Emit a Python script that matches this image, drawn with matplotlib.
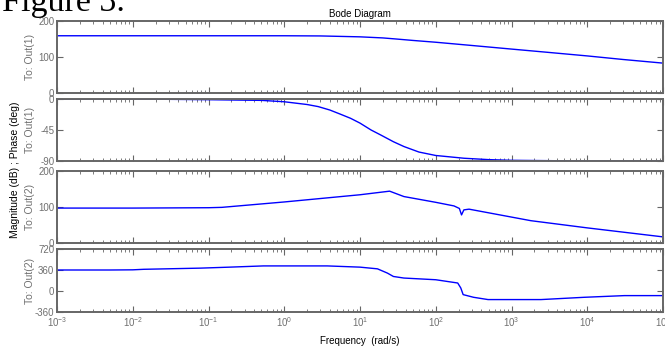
import numpy as np
import matplotlib
matplotlib.use("Agg")
import matplotlib.pyplot as plt
from matplotlib.ticker import LogLocator, NullFormatter, FixedLocator

plt.rcParams['font.family'] = ['Liberation Sans', 'DejaVu Sans']
plt.rcParams['mathtext.fontset'] = 'custom'
plt.rcParams['mathtext.rm'] = 'Liberation Sans'
plt.rcParams['mathtext.it'] = 'Liberation Sans'
plt.rcParams['axes.unicode_minus'] = False

# ---- data ----
f_mag1 = [1e-3, 1e-2, 0.1, 1, 3, 10, 20, 30, 50, 100, 300, 1000, 3000, 1e4, 3e4, 1e5]
mag1 = [159, 159, 159, 159, 158.5, 156, 153, 150, 146, 141, 132, 122, 113, 103, 93, 83]

f_ph1 = [1e-3, 1e-2, 0.1, 0.5, 1, 2, 2.8, 4, 5.5, 7.5, 10, 14, 18.6, 27.6, 38, 60, 100, 236, 500, 1000, 1e4, 1e5]
ph1 = [0, 0, -1, -2, -4, -8, -11, -16, -22, -28, -35, -45, -52, -62, -69, -77, -82, -86, -88, -89, -90, -90]

f_mag2 = [1e-3, 1e-2, 0.1, 0.15, 1, 10, 24.6, 38, 100, 174, 205, 219, 235, 275, 1000, 1800, 1e4, 1e5]
mag2 = [97, 97, 98, 99, 114, 134, 144, 129, 113, 103, 96, 78, 92, 94, 72, 62, 42, 17]

f_ph2 = [1e-3, 5e-3, 1e-2, 0.014, 0.078, 0.19, 0.53, 3.7, 10, 17, 23, 27.6, 38, 100, 195, 214, 230, 316, 490, 2450, 9100, 31000, 1e5]
ph2 = [360, 360, 363, 372, 392, 409, 430, 430, 409, 380, 307, 249, 222, 193, 137, 52, -62, -108, -147, -147, -108, -79, -79]

ylims = [(0, 200), (-90, 0), (0, 200), (-360, 720)]
yticks = [[0, 100, 200], [-90, -45, 0], [0, 100, 200], [-360, 0, 360, 720]]
row_labels = ['To: Out(1)', 'To: Out(1)', 'To: Out(2)', 'To: Out(2)']

# ---- layout ----
W, H = 665, 348
fig = plt.figure(figsize=(W / 100, H / 100), dpi=100)
left_px, right_px = 57, 663
panels_px = [(21, 93), (99, 161), (171, 243), (249, 312)]
grey = '#666666'
txtgrey = '#707070'

series = [(f_mag1, mag1), (f_ph1, ph1), (f_mag2, mag2), (f_ph2, ph2)]
axes = []
for i, ((t, b), (fx, fy)) in enumerate(zip(panels_px, series)):
    ax = fig.add_axes([left_px / W, 1 - b / H, (right_px - left_px) / W, (b - t) / H])
    ax.plot(fx, fy, color='#0000ff', lw=1.0)
    ax.set_xscale('log')
    ax.set_xlim(1e-3, 1e5)
    ax.set_ylim(*ylims[i])
    ax.yaxis.set_major_locator(FixedLocator(yticks[i]))
    ax.xaxis.set_major_locator(LogLocator(base=10, numticks=20))
    ax.xaxis.set_minor_locator(LogLocator(base=10, subs=np.arange(2, 10), numticks=20))
    ax.xaxis.set_minor_formatter(NullFormatter())
    for s in ax.spines.values():
        s.set_color(grey)
        s.set_linewidth(1.4)
    ax.tick_params(which='both', direction='in', top=True, right=True,
                   colors=grey, labelcolor=txtgrey, labelsize=7, pad=2)
    ax.tick_params(which='major', length=4, width=0.8)
    ax.tick_params(which='minor', length=2.5, width=0.6)
    ax.tick_params(axis='y', which='minor', left=False, right=False)
    ax.set_ylabel(row_labels[i], color=txtgrey, fontsize=7.5)
    ax.yaxis.set_label_coords(-(left_px - 35) / (right_px - left_px), 0.5)
    if i < 3:
        ax.tick_params(labelbottom=False)
    axes.append(ax)

axes[-1].set_xlabel('Frequency  (rad/s)', fontsize=7, color='black', labelpad=5)
axes[0].set_title('Bode Diagram', fontsize=7, color='black', pad=3)
fig.text(15 / W, 1 - 170 / H, 'Magnitude (dB) ; Phase (deg)', rotation=90,
         fontsize=7.5, color='black', ha='center', va='center')
fig.text(2 / W, 1 - 11 / H, 'Figure 3.', fontsize=24.5, family='Liberation Serif',
         color='black', ha='left', va='baseline')

fig.savefig('out.png', dpi=100)
